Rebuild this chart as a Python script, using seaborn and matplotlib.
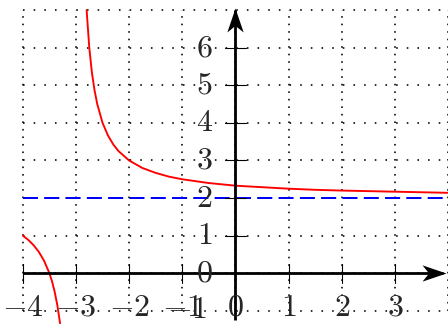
import matplotlib
matplotlib.use("Agg")
import matplotlib.pyplot as plt
import matplotlib.transforms as mtransforms
from matplotlib.path import Path
import numpy as np
import pandas as pd
import seaborn as sns

# y = 2 + 1/(x + 3): points on each branch of the hyperbola
x_left = [-4.0, -3.9, -3.8, -3.7, -3.6, -3.5, -3.45, -3.4, -3.35, -3.3]
y_left = [1.0, 0.89, 0.75, 0.57, 0.33, 0.0, -0.22, -0.5, -0.86, -1.33]
x_right = [-2.8, -2.75, -2.7, -2.65, -2.6, -2.5, -2.4, -2.3, -2.2, -2.0,
           -1.75, -1.5, -1.25, -1.0, -0.5, 0.0, 0.5, 1.0, 1.5, 2.0, 3.0, 4.0]
y_right = [7.0, 6.0, 5.33, 4.86, 4.5, 4.0, 3.67, 3.43, 3.25, 3.0,
           2.8, 2.67, 2.57, 2.5, 2.4, 2.33, 2.29, 2.25, 2.22, 2.2, 2.17, 2.14]
asymptote_y = 2.0

x_ticks = [-4, -3, -2, -1, 0, 1, 2, 3]
y_ticks = [-1, 0, 1, 2, 3, 4, 5, 6]
grid_x = [-4, -3, -2, -1, 0, 1, 2, 3, 4]
grid_y = [-1, 0, 1, 2, 3, 4, 5, 6, 7]

sns.set_style("white")
plt.rcParams["mathtext.fontset"] = "cm"
plt.rcParams["lines.scale_dashes"] = False

DPI = 72
fig = plt.figure(figsize=(448 / DPI, 324 / DPI), dpi=DPI)
ax = fig.add_axes([0, 0, 1, 1])
ax.set_xlim(-4.43, 4.0)
ax.set_ylim(-1.35, 7.27)
ax.set_axis_off()

# dotted unit grid (one dot every 0.2 units)
for gx in grid_x:
    ax.vlines(gx, -1, 7, colors="black", linewidth=1.6,
              linestyles=[(0, (1.6, 5.92))], zorder=1)
for gy in grid_y:
    ax.hlines(gy, -4, 4, colors="black", linewidth=1.6,
              linestyles=[(0, (1.6, 9.06))], zorder=1)

# horizontal asymptote
asym = pd.DataFrame({"x": [-4.0, 4.0], "y": [asymptote_y, asymptote_y]})
sns.lineplot(data=asym, x="x", y="y", ax=ax, color="blue", linewidth=2,
             linestyle=(0, (15, 6.3)), zorder=2)

# hyperbola branches
left = pd.DataFrame({"x": x_left, "y": y_left})
right = pd.DataFrame({"x": x_right, "y": y_right})
for branch in (left, right):
    sns.lineplot(data=branch, x="x", y="y", ax=ax, color="red", linewidth=1.9,
                 sort=False, estimator=None, zorder=3)

# coordinate axes
ax.plot([-4, 3.9], [0, 0], color="black", linewidth=2.8, zorder=4,
        solid_capstyle="butt")
ax.plot([0, 0], [-1.25, 7.0], color="black", linewidth=2.8, zorder=4,
        solid_capstyle="butt")

stealth = Path([(0, 1), (-0.68, -1), (0, -0.45), (0.68, -1), (0, 1)],
               [Path.MOVETO, Path.LINETO, Path.LINETO, Path.LINETO, Path.CLOSEPOLY])
stealth_r = stealth.transformed(mtransforms.Affine2D().rotate_deg(-90))
up_off = mtransforms.offset_copy(ax.transData, fig=fig, y=-12, units="dots")
right_off = mtransforms.offset_copy(ax.transData, fig=fig, x=-12, units="dots")
ax.plot([0], [7.07], marker=stealth, markersize=24, color="black",
        markeredgewidth=0, transform=up_off, zorder=5, clip_on=False)
ax.plot([3.97], [0], marker=stealth_r, markersize=24, color="black",
        markeredgewidth=0, transform=right_off, zorder=5, clip_on=False)

# tick marks
for tx in x_ticks:
    if tx != 0:
        ax.plot([tx, tx], [-0.25, 0.25], color="black", linewidth=1.1, zorder=4)
for ty in y_ticks:
    if ty > 0:
        ax.plot([-0.2, 0.2], [ty, ty], color="black", linewidth=1.1, zorder=4)

# tick labels
fs = 32
for tx in x_ticks:
    lab = f"${tx}$" if tx >= 0 else f"$-{abs(tx)}$"
    ax.text(tx, -0.9, lab, ha="center", va="center", fontsize=fs, zorder=6)
for ty in y_ticks:
    if ty >= 0:
        ax.text(-0.58, ty, f"${ty}$", ha="center", va="center", fontsize=fs, zorder=6)
    else:
        ax.text(-0.9, ty + 0.03, f"$-{abs(ty)}$", ha="center", va="center",
                fontsize=fs, zorder=6)

fig.savefig("out.png", dpi=DPI)
